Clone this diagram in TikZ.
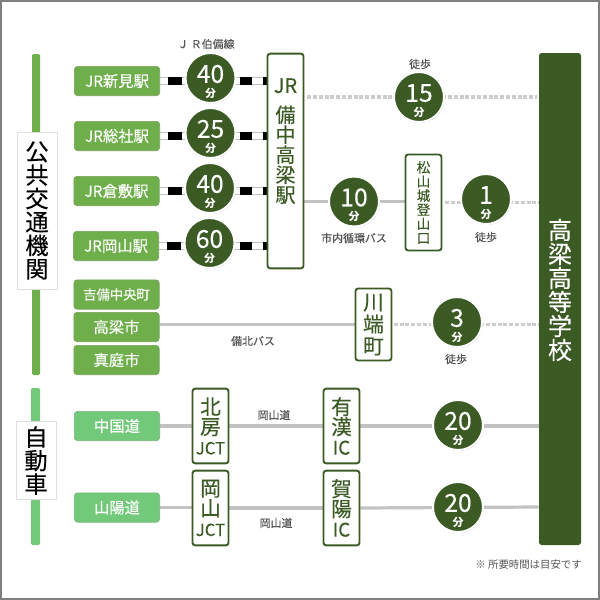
\documentclass[tikz,border=0pt]{standalone}
\usepackage{fontspec}
\setmainfont{Noto Sans CJK JP}
\newfontfamily\medfont[FakeBold=0.25]{Noto Sans CJK JP}
\usetikzlibrary{shadows,backgrounds}
\definecolor{darkgreen}{HTML}{3B5A24}
\definecolor{railgreen}{HTML}{6FAF4B}
\definecolor{roadgreen}{HTML}{72C97A}
\definecolor{linegray}{HTML}{C2C2C2}
\definecolor{walkgray}{HTML}{CDCDCD}
\definecolor{notegray}{HTML}{555555}
\tikzset{
	framebox/.style={draw=gray,line width=1.5pt},
	busbar/.style={rectangle,rounded corners=1pt,fill=railgreen,minimum width=6pt,inner sep=0pt},
	roadbar/.style={busbar,fill=roadgreen,minimum width=6.75pt},
	groupbox/.style={rectangle,draw=black!12,line width=.6pt,fill=white,minimum width=30pt,inner sep=0pt,align=center,font=\medfont\fontsize{17.5}{17.6}\selectfont},
	startbox/.style={rectangle,rounded corners=2.5pt,fill=railgreen,draw=railgreen!70!gray,line width=.5pt,minimum width=64pt,minimum height=22pt,inner sep=0pt,text=white,font=\medfont\fontsize{11.5}{12}\selectfont},
	roadbox/.style={startbox,fill=roadgreen,draw=roadgreen!70!gray},
	stopbox/.style={rectangle,rounded corners=2pt,draw=darkgreen,line width=1.4pt,fill=white,inner sep=0pt,text=darkgreen,align=center},
	roadstop/.style={stopbox,minimum width=27pt,minimum height=56pt,font=\medfont\fontsize{15.5}{15}\selectfont},
	timecirc/.style={circle,fill=darkgreen,draw=white,line width=1.5pt,minimum size=37.5pt,inner sep=0pt,text=white,align=center,drop shadow={opacity=.45,shadow xshift=.5pt,shadow yshift=-.7pt}},
	smalllabel/.style={inner sep=0pt,text=notegray,font=\medfont\fontsize{8.2}{9}\selectfont},
	railbase/.style={draw=linegray,line width=5.4pt,postaction={draw=white,line width=3.8pt}},
	railleft/.style={railbase,postaction={draw=black,line width=5.4pt,dash pattern=on 0pt off 6pt on 10.5pt off 60pt}},
	railright/.style={railbase,postaction={draw=black,line width=5.4pt,dash pattern=on 3pt off 8pt on 9pt off 60pt}},
	solidline/.style={draw=linegray,line width=2.4pt},
	walkline/.style={draw=walkgray,line width=2.8pt,dash pattern=on 3pt off 1.35pt},
}
\newcommand{\mins}[1]{{\medfont\fontsize{18.5}{19}\selectfont\rule{0pt}{19pt}#1}\\[-1pt]{\fontsize{8.2}{8.2}\selectfont\bfseries 分}}
\begin{document}
\begin{tikzpicture}[x=0.75pt,y=0.75pt,yscale=-1,xscale=1]
	\useasboundingbox (0,0) rectangle (600,600);
	\draw[framebox] (1,1) rectangle (599,599);

	% left group bars
	\node[busbar,minimum height=240.75pt] (busbar) at (36,214.5) {};
	\node[roadbar,minimum height=117.75pt] (roadbar) at (35.5,466.5) {};
	\node[groupbox,minimum height=117.75pt] (busgroup) at (37,210.5) {公\\共\\交\\通\\機\\関};
	\node[groupbox,minimum height=59pt] (roadgroup) at (36,460.5) {自\\動\\車};

	% start boxes
	\node[startbox] (niimi) at (117,81) {JR新見駅};
	\node[startbox] (soja) at (117,136) {JR総社駅};
	\node[startbox] (kurashiki) at (116.5,191) {JR倉敷駅};
	\node[startbox] (okayama) at (116,246) {JR岡山駅};
	\node[startbox,font=\medfont\fontsize{10}{12}\selectfont] (kibi) at (116.5,294.5) {吉備中央町};
	\node[startbox] (takahashi) at (116.5,327) {高梁市};
	\node[startbox] (maniwa) at (116.5,360) {真庭市};
	\node[roadbox] (chugoku) at (117,426) {中国道};
	\node[roadbox] (sanyo) at (117,507.5) {山陽道};

	% stop boxes
	\node[stopbox,minimum width=27pt,minimum height=161pt] (bitchu) at (285.5,161) {};
	\node[inner sep=0pt,text=darkgreen,align=center,font=\medfont\fontsize{15}{15}\selectfont,anchor=north] (bitchutext) at (285.5,78) {JR\\[7pt]備\\中\\高\\梁\\駅};
	\node[stopbox,minimum width=27pt,minimum height=72pt,font=\medfont\fontsize{10.2}{10.6}\selectfont] (tozan) at (423.5,202.5) {松\\山\\城\\登\\山\\口};
	\node[stopbox,minimum width=27pt,minimum height=54pt,font=\medfont\fontsize{15.5}{16.5}\selectfont] (kawabata) at (373.5,324.5) {川\\端\\町};
	\node[roadstop] (hokubo) at (210.5,426) {北\\房\\{\fontsize{12.5}{15}\selectfont JCT}};
	\node[roadstop] (okajct) at (210.5,508) {岡\\山\\{\fontsize{12.5}{15}\selectfont JCT}};
	\node[roadstop] (uka) at (341.5,426) {有\\漢\\{\fontsize{14}{15}\selectfont IC}};
	\node[roadstop] (kayo) at (341.5,508) {賀\\陽\\{\fontsize{14}{15}\selectfont IC}};
	\node[rectangle,rounded corners=2pt,fill=darkgreen,minimum width=31.5pt,minimum height=369pt] (school) at (560,299) {};
	\node[inner sep=0pt,text=white,align=center,font=\medfont\fontsize{18}{18}\selectfont] (schooltext) at (560,290) {高\\梁\\高\\等\\学\\校};

	% time circles
	\node[timecirc] (ta) at (210.5,78) {\mins{40}};
	\node[timecirc] (tb) at (210.5,133) {\mins{25}};
	\node[timecirc] (tc) at (210,188) {\mins{40}};
	\node[timecirc] (td) at (209.5,243) {\mins{60}};
	\node[timecirc] (walka) at (419,97) {\mins{15}};
	\node[timecirc] (busa) at (354,201.5) {\mins{10}};
	\node[timecirc] (walkb) at (486,199) {\mins{1}};
	\node[timecirc] (walkc) at (457,322) {\mins{3}};
	\node[timecirc] (cara) at (458,425) {\mins{20}};
	\node[timecirc] (carb) at (458,507) {\mins{20}};

	% connectors
	\begin{scope}[on background layer]
		\foreach \from/\circ in {niimi/ta,soja/tb,kurashiki/tc,okayama/td}{
			\draw[railleft] (\from.east) -- (\from.east -| \circ.center);
			\draw[railright] (\from.east -| bitchu.west) -- (\from.east -| \circ.center);
		}
		\draw[walkline,shorten <=2pt] (walka.center -| bitchu.east) -- (walka.center);
		\draw[walkline,shorten >=1pt] (walka.center) -- (walka.center -| school.west);
		\draw[solidline] (busa.center -| bitchu.east) -- (busa.center -| tozan.west);
		\draw[walkline,shorten <=2pt] (tozan.east) -- (tozan.east -| walkb.center);
		\draw[walkline] (tozan.east -| walkb.center) -- (tozan.east -| school.west);
		\draw[solidline,line width=1.8pt] (takahashi.east |- kawabata.west) -- (kawabata.west);
		\draw[walkline,shorten <=1pt] (kawabata.east) -- (kawabata.east -| walkc.center);
		\draw[walkline] (kawabata.east -| walkc.center) -- (kawabata.east -| school.west);
		\draw[solidline] (chugoku.east) -- (hokubo.west);
		\draw[solidline] (hokubo.east) -- (uka.west);
		\draw[solidline] (uka.east) -- (school.west |- uka.east);
		\draw[solidline] (sanyo.east) -- (sanyo.east -| okajct.west);
		\draw[solidline] (okajct.east) -- (kayo.west);
		\draw[solidline] (kayo.east) -- (school.west |- carb.center);
	\end{scope}

	% labels
	\node[smalllabel] (jrline) at (206,44) {Ｊ Ｒ伯備線};
	\node[smalllabel] (walkatext) at (420,64) {徒歩};
	\node[smalllabel] (busatext) at (354,238) {市内循環バス};
	\node[smalllabel] (walkbtext) at (486,237) {徒歩};
	\node[smalllabel] (bihoku) at (253,341) {備北バス};
	\node[smalllabel] (walkctext) at (456,359) {徒歩};
	\node[smalllabel] (roada) at (274,415) {岡山道};
	\node[smalllabel] (roadb) at (276,523) {岡山道};
	\node[smalllabel,anchor=east,font=\fontsize{7.8}{9}\selectfont] (note) at (582,565) {※ 所要時間は目安です};
\end{tikzpicture}
\end{document}
